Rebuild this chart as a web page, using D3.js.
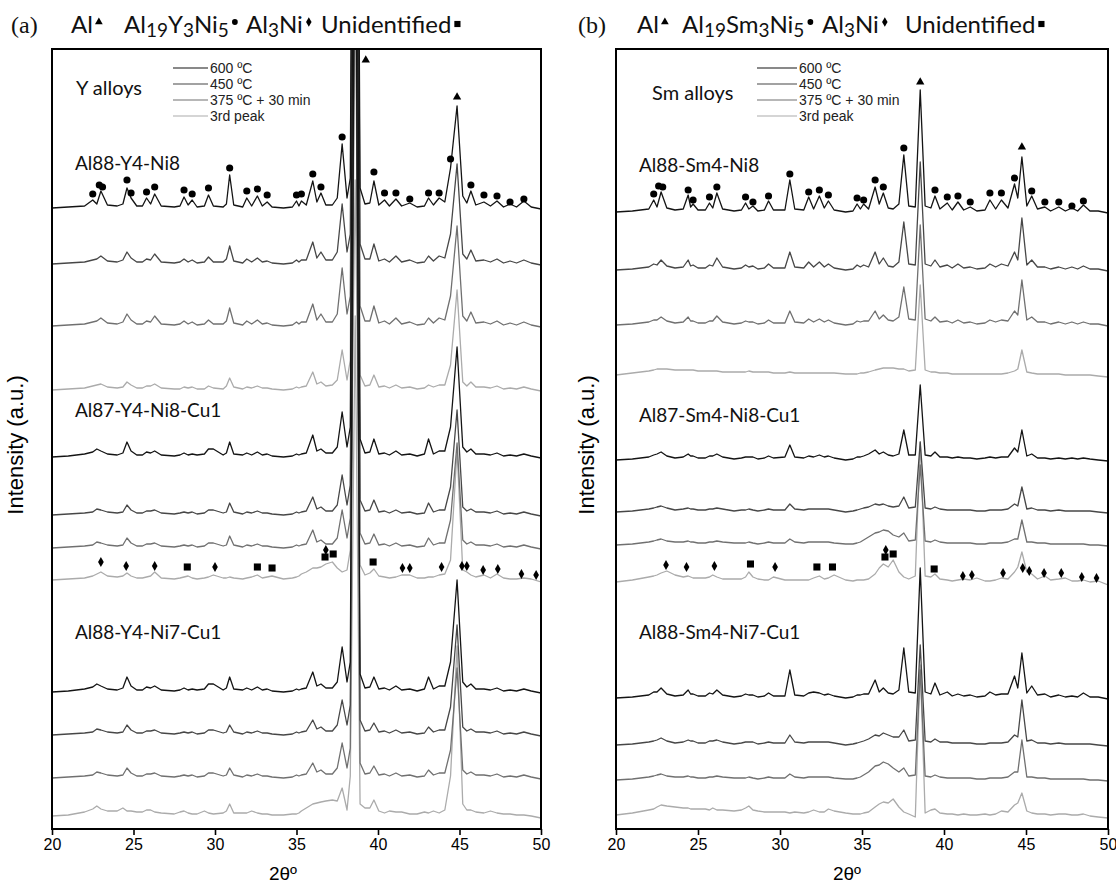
<!DOCTYPE html>
<html>
<head>
<meta charset="utf-8">
<script src="https://cdn.jsdelivr.net/npm/d3@7"></script>
<style>
  html, body { margin: 0; padding: 0; background: #fff; }
  svg { display: block; }
</style>
</head>
<body>
<svg id="chart" width="1116" height="883"></svg>
<script>
// ---------------------------------------------------------------
// XRD patterns (2θ in degrees, intensity in arbitrary units above
// each pattern's own baseline). One 2θ grid per alloy family.
// ---------------------------------------------------------------
const thetaY = [20.0,21.0,22.0,22.5,22.75,23.0,23.4,24.0,24.35,24.6,24.85,25.2,25.55,25.8,26.05,26.3,26.7,27.5,27.85,28.1,28.35,28.6,28.9,29.35,29.6,29.9,30.5,30.7,30.9,31.15,31.7,31.95,32.25,32.6,32.9,33.2,33.5,34.2,34.75,35.0,35.15,35.3,35.6,36.0,36.25,36.5,36.8,37.2,37.5,37.8,38.1,38.3,38.6,38.9,39.2,39.5,39.75,40.05,40.4,40.7,41.1,41.45,41.95,42.4,42.85,43.1,43.4,43.75,44.1,44.45,44.85,45.2,45.45,45.7,46.0,46.5,46.9,47.3,47.7,48.1,48.5,48.95,49.4,50.0];

const thetaSm = [20.0,21.0,22.0,22.3,22.5,22.75,23.1,23.6,24.1,24.4,24.55,24.7,25.0,25.45,25.7,25.9,26.15,26.5,27.2,27.65,27.9,28.1,28.35,28.65,29.05,29.3,29.6,30.3,30.6,30.9,31.45,31.75,32.05,32.4,32.7,32.95,33.3,34.0,34.45,34.7,34.9,35.1,35.4,35.8,36.05,36.3,36.6,36.9,37.25,37.55,37.85,38.25,38.55,38.85,39.2,39.45,39.75,40.2,40.5,40.85,41.2,41.6,42.0,42.5,42.8,43.15,43.5,43.9,44.3,44.5,44.75,45.05,45.35,45.7,46.15,46.5,47.0,47.4,47.8,48.15,48.5,48.9,49.4,50.0];

// Y alloys
const al88y4ni8_600 = [0,1,2,8,4,17,3,2,4,20,10,2,2,10,4,14,2,1,2,11,3,8,1,2,13,2,1,4,33,3,1,10,2,12,2,6,1,0,1,7,2,7,3,27,6,15,3,3,10,64,10,30,900,20,4,5,27,3,8,2,9,2,5,1,2,10,3,10,6,40,102,12,5,17,3,6,2,7,1,4,1,7,1,-1];
const al88y4ni8_450 = [0,1,2,4,5,8,3,2,4,12,6,2,2,5,4,10,2,1,2,5,2,4,1,2,7,2,2,5,18,3,1,5,2,6,2,3,1,0,1,4,2,4,4,22,6,12,4,4,12,60,12,30,900,20,5,5,20,3,5,2,8,2,4,1,2,8,3,8,6,30,100,10,5,14,3,4,2,5,1,3,1,4,1,-1];
const al88y4ni8_375 = [0,1,2,4,5,8,3,2,4,12,6,2,2,5,4,10,2,1,2,5,2,4,1,2,6,2,2,5,18,3,1,5,2,6,2,3,1,0,1,4,2,4,4,22,6,12,4,4,12,58,12,30,900,20,5,5,20,3,5,2,8,2,4,1,2,8,3,8,6,30,100,10,5,14,3,4,2,5,1,3,1,4,1,-1];
const al88y4ni8_3rd = [0,1,2,4,5,6,3,2,3,8,5,2,2,4,4,6,2,1,1,3,2,3,1,1,4,2,1,4,12,3,1,3,2,4,2,2,1,0,1,3,2,3,4,18,6,8,4,5,10,40,10,30,900,15,4,5,15,3,4,2,5,2,3,1,2,5,3,5,5,25,100,8,4,8,3,3,2,4,1,2,1,3,1,-1];
const al87y4ni8cu1_600 = [0,1,3,5,8,6,3,2,4,15,6,2,2,5,4,6,2,1,2,4,2,3,2,3,8,8,2,4,15,3,2,4,2,5,2,3,1,0,1,3,2,3,4,22,6,8,4,4,10,45,10,30,900,18,4,5,18,3,4,2,6,2,3,1,3,18,3,6,6,30,110,10,5,8,3,3,2,4,1,2,1,3,1,-1];
const al87y4ni8cu1_450 = [0,1,2,3,6,5,3,2,3,10,5,2,2,4,4,5,2,1,2,3,2,3,1,2,5,5,2,3,12,3,1,3,2,4,2,2,1,0,1,3,2,3,4,18,6,8,4,4,10,40,10,30,900,15,4,5,15,3,4,2,5,2,3,1,2,12,3,5,5,28,105,8,4,6,3,3,2,4,1,2,1,3,1,-1];
const al87y4ni8cu1_375 = [0,1,2,3,6,5,3,2,3,10,5,2,2,4,4,5,2,1,2,3,2,3,1,2,5,5,2,3,12,3,1,3,2,4,2,2,1,0,1,3,2,3,4,18,6,8,4,4,10,38,10,30,900,15,4,5,14,3,4,2,5,2,3,1,2,10,3,5,5,28,105,8,4,6,3,3,2,4,1,2,1,3,1,-1];
const al87y4ni8cu1_3rd = [0,1,2,4,6,8,4,3,4,7,4,2,2,3,4,8,2,1,2,3,4,2,1,2,3,5,2,2,3,2,1,2,3,5,2,3,4,1,2,3,4,6,8,12,12,13,16,18,12,8,10,30,400,15,5,7,11,4,3,2,3,5,5,2,2,3,3,5,6,20,130,10,8,5,3,5,2,6,2,1,1,2,1,-2];
const al88y4ni7cu1_600 = [0,1,3,5,8,6,3,2,4,15,6,2,2,5,4,6,2,1,2,4,2,3,2,3,8,8,2,4,15,3,2,4,2,5,2,3,1,0,1,3,2,3,4,20,6,8,4,4,10,45,10,30,900,18,4,5,15,3,4,2,6,2,3,1,3,15,3,6,6,30,112,10,5,8,3,3,2,4,1,2,1,3,1,-1];
const al88y4ni7cu1_450 = [0,1,2,3,6,5,3,2,3,10,5,2,2,4,4,5,2,1,2,3,2,3,1,2,5,5,2,3,10,3,1,3,2,4,2,2,1,0,1,3,2,3,4,15,6,8,4,4,10,35,10,30,900,15,4,5,12,3,4,2,5,2,3,1,2,8,3,5,5,28,110,8,4,6,3,3,2,4,1,2,1,3,1,-1];
const al88y4ni7cu1_375 = [0,1,2,3,6,5,3,2,3,10,5,2,2,4,4,5,2,1,2,3,2,3,1,2,5,5,2,3,10,3,1,3,2,4,2,2,1,0,1,3,2,3,4,15,6,8,4,4,10,35,10,30,900,15,4,5,12,3,4,2,5,2,3,1,2,8,3,5,5,28,110,8,4,6,3,3,2,4,1,2,1,3,1,-1];
const al88y4ni7cu1_3rd = [0,1,4,7,10,7,5,5,8,5,5,4,4,6,6,4,3,2,4,5,3,2,2,5,3,2,3,5,12,3,3,3,5,3,2,2,1,1,2,2,3,5,8,12,13,14,15,16,15,28,6,40,500,12,8,8,16,5,3,5,4,4,2,2,4,3,5,3,6,40,170,12,6,6,4,3,5,3,2,2,1,1,0,-2];

// Sm alloys
const al88sm4ni8_600 = [0,1,3,12,5,20,4,2,3,17,5,8,2,2,9,4,19,3,1,2,9,3,6,1,2,11,2,2,32,3,2,15,3,16,4,11,2,0,1,8,3,8,3,25,8,19,4,3,8,57,6,5,122,6,4,16,3,9,2,10,2,5,1,2,12,3,12,4,28,14,55,6,16,3,5,1,5,1,4,1,7,1,1,-1];
const al88sm4ni8_450 = [0,1,3,6,5,10,4,2,3,10,4,5,2,2,5,4,12,3,1,2,5,3,4,1,2,6,2,2,18,3,2,8,3,8,3,6,2,0,1,5,3,5,3,18,6,12,4,3,8,48,6,5,108,6,4,10,3,5,2,6,2,3,1,2,6,3,6,4,18,10,52,5,10,3,3,1,3,1,3,1,4,1,1,-1];
const al88sm4ni8_375 = [0,1,3,5,5,8,4,2,3,8,4,4,2,2,4,4,9,3,1,2,4,3,3,1,2,5,2,2,14,3,2,6,3,6,3,5,2,0,1,4,3,4,4,14,6,10,5,4,8,38,6,5,100,6,4,8,3,4,2,5,2,3,1,2,5,3,5,4,14,10,45,5,8,3,3,1,3,1,3,1,3,1,1,-1];
const al88sm4ni8_3rd = [0,2,4,5,6,6,6,5,5,5,5,5,4,4,4,4,4,3,3,3,3,4,3,3,3,3,2,2,3,2,2,2,2,2,2,2,2,1,1,1,2,2,3,5,6,7,7,7,6,6,4,5,90,5,3,3,2,2,1,1,1,1,1,1,1,1,1,2,4,6,25,3,2,1,1,1,1,0,0,0,0,0,-1,-2];
const al87sm4ni8cu1_600 = [0,1,3,5,6,8,4,2,3,6,4,4,2,2,4,4,6,3,1,2,3,3,3,1,2,4,2,3,15,3,2,4,3,5,3,4,2,0,1,3,3,4,6,10,6,8,5,4,6,30,5,5,75,5,4,8,3,3,2,3,2,2,1,2,3,2,3,3,12,8,30,4,6,2,2,1,2,1,2,1,2,1,0,-1];
const al87sm4ni8cu1_450 = [0,1,3,4,5,6,4,2,3,4,3,3,2,2,3,3,4,3,1,2,2,3,2,1,2,3,2,2,8,3,2,3,3,3,3,3,2,0,1,2,3,4,5,8,7,8,6,5,6,15,4,5,70,4,3,5,3,2,2,2,2,2,1,1,2,2,2,3,8,6,25,3,4,2,2,1,2,1,1,1,1,1,0,-1];
const al87sm4ni8cu1_375 = [0,1,3,4,5,6,4,3,3,4,3,3,2,2,3,3,4,3,2,2,2,3,2,1,2,3,2,2,6,3,2,3,3,3,3,3,2,1,1,2,3,5,8,12,13,15,14,10,8,12,4,5,80,4,3,5,3,2,2,2,2,2,1,1,2,2,2,3,6,6,25,3,3,2,2,1,1,1,1,1,1,0,0,-1];
const al87sm4ni8cu1_3rd = [0,2,5,6,7,9,11,7,5,6,5,4,4,4,5,7,5,3,3,3,5,10,5,3,2,2,5,2,2,2,2,2,4,6,3,4,7,2,1,2,2,2,3,8,14,18,15,22,10,5,3,6,140,6,5,8,3,2,1,2,3,2,4,1,1,2,4,3,10,15,30,10,8,3,6,2,3,4,1,1,2,0,1,-3];
const al88sm4ni7cu1_600 = [0,1,3,6,6,10,4,2,3,8,4,4,2,2,5,4,8,3,1,2,4,3,3,1,2,5,2,2,28,3,2,5,6,5,3,4,2,0,1,3,3,4,4,18,6,10,5,4,8,50,6,5,130,6,4,15,3,6,2,4,2,3,1,2,6,3,4,4,22,10,45,5,12,3,4,1,3,1,2,1,5,1,1,-1];
const al88sm4ni7cu1_450 = [0,1,3,4,5,7,4,2,3,5,4,4,2,2,4,4,5,3,1,2,3,3,3,1,2,3,2,2,10,3,2,3,3,3,3,3,2,0,1,2,3,4,6,10,9,12,10,8,8,15,4,5,100,4,3,6,3,3,2,2,2,2,1,1,2,2,2,3,10,8,45,4,5,2,2,1,2,1,1,1,1,1,0,-1];
const al88sm4ni7cu1_375 = [0,1,3,4,5,6,4,3,3,4,3,3,2,2,3,3,4,3,2,2,2,3,2,1,2,3,2,2,6,3,2,3,3,3,3,3,2,1,1,2,3,5,8,14,15,18,16,12,8,12,4,5,110,4,3,5,3,2,2,2,2,2,1,1,2,2,2,3,8,8,40,3,3,2,2,1,1,1,1,1,1,0,0,-1];
const al88sm4ni7cu1_3rd = [0,2,5,6,8,10,9,8,7,7,6,6,6,6,5,7,5,5,4,5,7,9,5,4,3,3,3,3,2,3,2,3,5,3,3,6,4,2,1,1,1,2,3,8,11,13,12,16,8,3,1,-2,150,2,5,6,2,1,1,0,1,0,0,1,0,1,4,3,10,12,22,4,2,1,1,0,1,1,0,0,1,-1,-2,-3];

// Vertical offset of each pattern in the stack (same units as intensity)
const offsetsY  = [621, 565, 503, 439, 372, 314, 281, 249, 137, 94, 51, 13];
const offsetsSm = [617, 559, 504, 454, 369, 317, 284, 247, 131, 84, 49, 14];

// Phase markers: [2θ, height above the pattern's baseline]
const al19y3ni5Marks = [[22.5,14],[22.9,23],[23.1,21],[24.6,28],[24.85,15],[25.8,16],[26.3,21],[28.1,18],[28.6,14],[29.6,20],[30.9,40],[31.95,17],[32.6,19],[33.2,13],[35.0,13],[35.3,14],[36.0,34],[36.5,21],[37.8,71],[39.75,36],[40.4,15],[41.1,15],[41.95,9],[43.1,15],[43.75,15],[44.45,49],[45.7,23],[46.5,13],[47.3,12],[48.1,6],[48.95,9]];
const alMarksY = [[39.25,148],[44.85,111]];
const al3niMarksY = [[23.0,18],[24.55,14],[26.3,14],[30.0,13],[36.8,30],[41.5,12],[41.95,12],[43.9,13],[45.15,14],[45.45,14],[46.45,10],[47.35,11],[48.8,6],[49.7,5]];
const unidentMarksY = [[28.3,13],[32.6,13],[33.5,12],[36.75,23],[37.25,26],[39.7,18]];

const al19sm3ni5Marks = [[22.3,18],[22.6,26],[22.85,25],[24.4,22],[24.7,12],[25.7,15],[26.15,25],[27.9,15],[28.35,10],[29.3,16],[30.6,38],[31.75,20],[32.4,22],[32.95,17],[34.7,14],[35.1,12],[35.8,32],[36.3,25],[37.55,64],[39.45,22],[40.2,15],[40.85,16],[41.6,10],[42.8,19],[43.5,19],[44.3,34],[45.35,21],[46.15,10],[47.0,10],[47.8,6],[48.5,11]];
const alMarksSm = [[38.55,130],[44.75,65]];
const al3niMarksSm = [[23.05,17],[24.3,15],[26.0,16],[29.7,15],[36.45,32],[41.15,6],[41.7,7],[43.6,9],[44.8,14],[45.2,11],[46.1,9],[47.15,9],[48.4,5],[49.3,4]];
const unidentMarksSm = [[28.2,18],[32.25,15],[33.2,15],[36.4,25],[36.9,28],[39.4,13]];

// Labels
const tickValues = [20, 25, 30, 35, 40, 45, 50];
const conditionLabels = ['600 ºC', '450 ºC', '375 ºC + 30 min', '3rd peak'];
const alloysY  = ['Al88-Y4-Ni8', 'Al87-Y4-Ni8-Cu1', 'Al88-Y4-Ni7-Cu1'];
const alloysSm = ['Al88-Sm4-Ni8', 'Al87-Sm4-Ni8-Cu1', 'Al88-Sm4-Ni7-Cu1'];
const phasesY  = ['Al', 'Al19Y3Ni5', 'Al3Ni', 'Unidentified'];
const phasesSm = ['Al', 'Al19Sm3Ni5', 'Al3Ni', 'Unidentified'];

// ---------------------------------------------------------------
// Drawing
// ---------------------------------------------------------------
const svg = d3.select('#chart');
const conditionColors = ['#141414', '#474747', '#707070', '#ababab'];
const sansArial = 'Liberation Sans, Arial, sans-serif';
const sansHuman = 'Lato, Open Sans, sans-serif';

const panels = [
  {
    id: 'y', tag: '(a)', tagX: 11, title: 'Y alloys',
    left: 52, right: 541, top: 49, bottom: 829,
    theta: thetaY,
    series: [al88y4ni8_600, al88y4ni8_450, al88y4ni8_375, al88y4ni8_3rd,
             al87y4ni8cu1_600, al87y4ni8cu1_450, al87y4ni8cu1_375, al87y4ni8cu1_3rd,
             al88y4ni7cu1_600, al88y4ni7cu1_450, al88y4ni7cu1_375, al88y4ni7cu1_3rd],
    offsets: offsetsY,
    alloys: alloysY, alloyY: [170, 417, 639],
    phases: phasesY, phaseX: [71, 124, 246, 321],
    dots: al19y3ni5Marks, tris: alMarksY, diamonds: al3niMarksY, squares: unidentMarksY,
    legendX: 173, legendLen: 35, titleX: 76, titleY: 95,
    yLabelX: 23, xLabelX: 283
  },
  {
    id: 'sm', tag: '(b)', tagX: 578, title: 'Sm alloys',
    left: 616, right: 1108, top: 49, bottom: 829,
    theta: thetaSm,
    series: [al88sm4ni8_600, al88sm4ni8_450, al88sm4ni8_375, al88sm4ni8_3rd,
             al87sm4ni8cu1_600, al87sm4ni8cu1_450, al87sm4ni8cu1_375, al87sm4ni8cu1_3rd,
             al88sm4ni7cu1_600, al88sm4ni7cu1_450, al88sm4ni7cu1_375, al88sm4ni7cu1_3rd],
    offsets: offsetsSm,
    alloys: alloysSm, alloyY: [172, 422, 639],
    phases: phasesSm, phaseX: [637, 682, 822, 905],
    dots: al19sm3ni5Marks, tris: alMarksSm, diamonds: al3niMarksSm, squares: unidentMarksSm,
    legendX: 757, legendLen: 40, titleX: 652, titleY: 100,
    yLabelX: 594, xLabelX: 847
  }
];

// Header text with old-style looking numerals (smaller, lowered digits)
function phaseText(g, x, y, name) {
  const t = g.append('text').attr('x', x).attr('y', y)
    .attr('font-family', sansHuman).attr('font-size', 24).attr('fill', '#111');
  const runs = name.match(/\d+|\D+/g);
  let lowered = false;
  runs.forEach(r => {
    const isNum = /\d/.test(r);
    const ts = t.append('tspan').text(r);
    if (isNum && !lowered) { ts.attr('dy', 4).attr('font-size', 19); lowered = true; }
    else if (isNum) { ts.attr('font-size', 19); }
    else if (!isNum && lowered) { ts.attr('dy', -4); lowered = false; }
  });
  return t;
}

const symbolTypes = [d3.symbolTriangle, d3.symbolCircle, d3.symbolDiamond, d3.symbolSquare];

panels.forEach(p => {
  const x = d3.scaleLinear().domain([20, 50]).range([p.left, p.right]);
  const y = d3.scaleLinear().domain([0, 780]).range([p.bottom, p.top]);
  const g = svg.append('g');

  // clip region = plot frame
  const clipId = 'clip-' + p.id;
  svg.append('defs').append('clipPath').attr('id', clipId)
    .append('rect').attr('x', p.left).attr('y', p.top)
    .attr('width', p.right - p.left).attr('height', p.bottom - p.top);

  const line = d3.line().x(d => x(d[0])).y(d => y(d[1])).curve(d3.curveLinear);
  const traces = g.append('g').attr('clip-path', `url(#${clipId})`);

  // lighter conditions first so the darker patterns sit on top
  const order = d3.range(p.series.length).sort((a, b) => (b % 4) - (a % 4) || a - b);
  order.forEach(i => {
    const vals = p.series[i];
    const pts = p.theta.map((t, k) => [t, p.offsets[i] + vals[k]]);
    traces.append('path')
      .attr('d', line(pts))
      .attr('fill', 'none')
      .attr('stroke', conditionColors[i % 4])
      .attr('stroke-width', 1.3)
      .attr('stroke-linejoin', 'round');
  });

  // markers
  const markers = g.append('g');
  const drawMarks = (list, baseIdx, type, size) => {
    list.forEach(([t, h]) => {
      markers.append('path')
        .attr('d', d3.symbol().type(type).size(size)())
        .attr('transform', `translate(${x(t)},${y(p.offsets[baseIdx] + h)})`)
        .attr('fill', '#000');
    });
  };
  drawMarks(p.dots, 0, d3.symbolCircle, 40);
  drawMarks(p.tris, 0, d3.symbolTriangle, 30);
  drawMarks(p.diamonds, 7, d3.symbolDiamond, 28);
  drawMarks(p.squares, 7, d3.symbolSquare, 50);

  // frame
  g.append('rect')
    .attr('x', p.left).attr('y', p.top)
    .attr('width', p.right - p.left).attr('height', p.bottom - p.top)
    .attr('fill', 'none').attr('stroke', '#000').attr('stroke-width', 2);

  // x axis
  const ax = g.append('g').attr('transform', `translate(0,${p.bottom})`)
    .call(d3.axisBottom(x).tickValues(tickValues).tickSize(6).tickSizeOuter(0).tickPadding(4));
  ax.select('.domain').remove();
  ax.selectAll('line').attr('stroke', '#000').attr('stroke-width', 1.6);
  ax.selectAll('text').attr('font-family', sansArial).attr('font-size', 16).attr('fill', '#000');

  g.append('text').attr('x', p.xLabelX).attr('y', 880).attr('text-anchor', 'middle')
    .attr('font-family', sansArial).attr('font-size', 19).attr('fill', '#000').text('2θº');

  g.append('text').attr('transform', `translate(${p.yLabelX},445) rotate(-90)`)
    .attr('text-anchor', 'middle').attr('font-family', sansArial).attr('font-size', 22)
    .attr('fill', '#000').text('Intensity (a.u.)');

  // legend
  conditionLabels.forEach((lab, i) => {
    const ly = 68 + i * 16;
    g.append('line').attr('x1', p.legendX).attr('x2', p.legendX + p.legendLen)
      .attr('y1', ly).attr('y2', ly).attr('stroke', conditionColors[i]).attr('stroke-width', 1.2);
    g.append('text').attr('x', p.legendX + p.legendLen + 2).attr('y', ly + 5)
      .attr('font-family', sansArial).attr('font-size', 14).attr('fill', '#222').text(lab);
  });
  g.append('text').attr('x', p.titleX).attr('y', p.titleY)
    .attr('font-family', sansHuman).attr('font-size', 20).attr('fill', '#111').text(p.title);

  // alloy names
  p.alloys.forEach((a, i) => {
    g.append('text').attr('x', p.left + 23).attr('y', p.alloyY[i])
      .attr('font-family', sansHuman).attr('font-size', 19).attr('fill', '#111').text(a);
  });

  // header: panel tag and phase key
  g.append('text').attr('x', p.tagX).attr('y', 33)
    .attr('font-family', 'Liberation Serif, serif').attr('font-size', 24).attr('fill', '#111').text(p.tag);
  p.phases.forEach((name, i) => {
    const t = phaseText(g, p.phaseX[i], 33, name);
    const w = t.node().getComputedTextLength();
    g.append('path')
      .attr('d', d3.symbol().type(symbolTypes[i]).size(i === 3 ? 38 : 26)())
      .attr('transform', `translate(${p.phaseX[i] + w + 6},${i === 3 ? 24 : 22})`)
      .attr('fill', '#000');
  });
});
</script>
</body>
</html>
